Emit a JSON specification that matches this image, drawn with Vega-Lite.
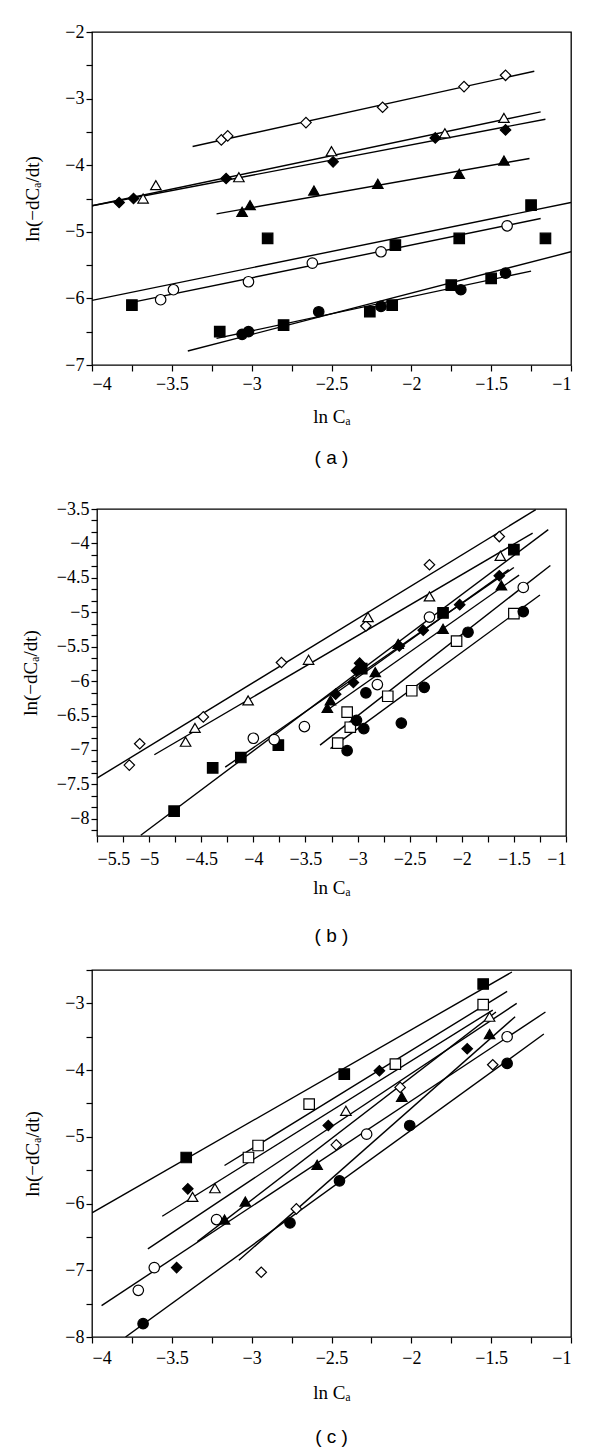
{
  "$schema": "https://vega.github.io/schema/vega-lite/v6.json",
  "padding": {"left": 20, "top": 22, "right": 5, "bottom": 5},
  "background": "white",
  "config": {
    "view": {"stroke": "black", "strokeWidth": 1.3},
    "axis": {
      "domain": false, "grid": false, "tickColor": "black", "tickSize": 6, "tickWidth": 1.2, "tickCount": 100,
      "labelFont": "Liberation Serif", "labelFontSize": 18, "labelColor": "black", "labelOverlap": false,
      "titleFont": "Liberation Serif", "titleFontSize": 19, "titleFontWeight": "normal", "titleColor": "black"
    },
    "axisY": {"minExtent": 40, "maxExtent": 40},
    "title": {"font": "Liberation Sans", "fontSize": 19, "fontWeight": "normal", "color": "black", "orient": "bottom", "anchor": "middle", "frame": "group"}
  },
  "datasets": {
    "a_points": [
      {"s": "od", "x": -3.19, "y": -3.62}, {"s": "od", "x": -3.15, "y": -3.56}, {"s": "od", "x": -2.66, "y": -3.36}, {"s": "od", "x": -2.18, "y": -3.13}, {"s": "od", "x": -1.67, "y": -2.82}, {"s": "od", "x": -1.41, "y": -2.65},
      {"s": "ot", "x": -3.60, "y": -4.30}, {"s": "ot", "x": -3.68, "y": -4.50}, {"s": "ot", "x": -3.08, "y": -4.18}, {"s": "ot", "x": -2.50, "y": -3.79}, {"s": "ot", "x": -1.79, "y": -3.52}, {"s": "ot", "x": -1.42, "y": -3.29},
      {"s": "fd", "x": -3.83, "y": -4.56}, {"s": "fd", "x": -3.74, "y": -4.50}, {"s": "fd", "x": -3.16, "y": -4.20}, {"s": "fd", "x": -2.49, "y": -3.95}, {"s": "fd", "x": -1.85, "y": -3.59}, {"s": "fd", "x": -1.41, "y": -3.47},
      {"s": "ft", "x": -3.06, "y": -4.70}, {"s": "ft", "x": -3.01, "y": -4.60}, {"s": "ft", "x": -2.61, "y": -4.38}, {"s": "ft", "x": -2.21, "y": -4.28}, {"s": "ft", "x": -1.70, "y": -4.13}, {"s": "ft", "x": -1.42, "y": -3.93},
      {"s": "oc", "x": -3.57, "y": -6.02}, {"s": "oc", "x": -3.49, "y": -5.87}, {"s": "oc", "x": -3.02, "y": -5.75}, {"s": "oc", "x": -2.62, "y": -5.47}, {"s": "oc", "x": -2.19, "y": -5.30}, {"s": "oc", "x": -1.40, "y": -4.91},
      {"s": "fs", "x": -3.75, "y": -6.10}, {"s": "fs", "x": -2.90, "y": -5.10}, {"s": "fs", "x": -2.10, "y": -5.20}, {"s": "fs", "x": -1.70, "y": -5.10}, {"s": "fs", "x": -1.25, "y": -4.60}, {"s": "fs", "x": -1.16, "y": -5.10},
      {"s": "fs", "x": -3.20, "y": -6.50}, {"s": "fs", "x": -2.80, "y": -6.40}, {"s": "fs", "x": -2.26, "y": -6.20}, {"s": "fs", "x": -2.12, "y": -6.10}, {"s": "fs", "x": -1.75, "y": -5.80}, {"s": "fs", "x": -1.50, "y": -5.70},
      {"s": "fc", "x": -3.06, "y": -6.54}, {"s": "fc", "x": -3.02, "y": -6.50}, {"s": "fc", "x": -2.58, "y": -6.20}, {"s": "fc", "x": -2.19, "y": -6.12}, {"s": "fc", "x": -1.69, "y": -5.87}, {"s": "fc", "x": -1.41, "y": -5.62}
    ],
    "a_fits": [
      {"line": "od", "x": -3.37, "y": -3.72}, {"line": "od", "x": -1.23, "y": -2.59},
      {"line": "ot", "x": -4.0, "y": -4.61}, {"line": "ot", "x": -1.19, "y": -3.20},
      {"line": "fd", "x": -4.0, "y": -4.61}, {"line": "fd", "x": -1.16, "y": -3.31},
      {"line": "ft", "x": -3.22, "y": -4.73}, {"line": "ft", "x": -1.26, "y": -3.90},
      {"line": "oc", "x": -3.75, "y": -6.06}, {"line": "oc", "x": -1.19, "y": -4.80},
      {"line": "fs1", "x": -4.0, "y": -6.03}, {"line": "fs1", "x": -1.0, "y": -4.56},
      {"line": "fs2", "x": -3.40, "y": -6.79}, {"line": "fs2", "x": -1.0, "y": -5.30},
      {"line": "fc", "x": -3.22, "y": -6.60}, {"line": "fc", "x": -1.25, "y": -5.59}
    ],
    "b_points": [
      {"s": "od", "x": -5.19, "y": -7.22}, {"s": "od", "x": -5.09, "y": -6.91}, {"s": "od", "x": -4.48, "y": -6.52}, {"s": "od", "x": -3.73, "y": -5.73}, {"s": "od", "x": -2.92, "y": -5.20}, {"s": "od", "x": -2.31, "y": -4.31}, {"s": "od", "x": -1.64, "y": -3.90},
      {"s": "ot", "x": -4.65, "y": -6.88}, {"s": "ot", "x": -4.56, "y": -6.68}, {"s": "ot", "x": -4.05, "y": -6.28}, {"s": "ot", "x": -3.47, "y": -5.69}, {"s": "ot", "x": -2.90, "y": -5.07}, {"s": "ot", "x": -2.31, "y": -4.77}, {"s": "ot", "x": -1.63, "y": -4.18},
      {"s": "fs", "x": -4.76, "y": -7.89}, {"s": "fs", "x": -4.39, "y": -7.26}, {"s": "fs", "x": -4.12, "y": -7.11}, {"s": "fs", "x": -3.76, "y": -6.93}, {"s": "fs", "x": -2.96, "y": -5.82}, {"s": "fs", "x": -2.18, "y": -5.01}, {"s": "fs", "x": -1.50, "y": -4.09},
      {"s": "fd", "x": -3.21, "y": -6.19}, {"s": "fd", "x": -3.04, "y": -6.02}, {"s": "fd", "x": -3.01, "y": -5.85}, {"s": "fd", "x": -2.98, "y": -5.74}, {"s": "fd", "x": -2.60, "y": -5.49}, {"s": "fd", "x": -2.37, "y": -5.26}, {"s": "fd", "x": -2.02, "y": -4.89}, {"s": "fd", "x": -1.64, "y": -4.47},
      {"s": "ft", "x": -3.29, "y": -6.39}, {"s": "ft", "x": -3.26, "y": -6.28}, {"s": "ft", "x": -2.83, "y": -5.87}, {"s": "ft", "x": -2.61, "y": -5.46}, {"s": "ft", "x": -2.18, "y": -5.24}, {"s": "ft", "x": -1.62, "y": -4.61},
      {"s": "oc", "x": -4.00, "y": -6.83}, {"s": "oc", "x": -3.80, "y": -6.85}, {"s": "oc", "x": -3.51, "y": -6.66}, {"s": "oc", "x": -2.81, "y": -6.05}, {"s": "oc", "x": -2.31, "y": -5.07}, {"s": "oc", "x": -1.41, "y": -4.64},
      {"s": "os", "x": -3.10, "y": -6.45}, {"s": "os", "x": -3.07, "y": -6.67}, {"s": "os", "x": -3.19, "y": -6.90}, {"s": "os", "x": -2.71, "y": -6.22}, {"s": "os", "x": -2.48, "y": -6.14}, {"s": "os", "x": -2.05, "y": -5.42}, {"s": "os", "x": -1.50, "y": -5.02},
      {"s": "fc", "x": -3.10, "y": -7.01}, {"s": "fc", "x": -3.01, "y": -6.57}, {"s": "fc", "x": -2.94, "y": -6.69}, {"s": "fc", "x": -2.92, "y": -6.17}, {"s": "fc", "x": -2.58, "y": -6.61}, {"s": "fc", "x": -2.36, "y": -6.09}, {"s": "fc", "x": -1.94, "y": -5.29}, {"s": "fc", "x": -1.41, "y": -4.99}
    ],
    "b_fits": [
      {"line": "od", "x": -5.5, "y": -7.41}, {"line": "od", "x": -1.29, "y": -3.51},
      {"line": "ot", "x": -4.95, "y": -7.07}, {"line": "ot", "x": -1.32, "y": -3.85},
      {"line": "fs", "x": -5.08, "y": -8.24}, {"line": "fs", "x": -1.17, "y": -3.80},
      {"line": "oc", "x": -4.27, "y": -7.25}, {"line": "oc", "x": -1.50, "y": -4.35},
      {"line": "ft", "x": -3.30, "y": -6.43}, {"line": "ft", "x": -1.45, "y": -4.46},
      {"line": "fd", "x": -3.25, "y": -6.22}, {"line": "fd", "x": -1.55, "y": -4.38},
      {"line": "os", "x": -3.36, "y": -6.93}, {"line": "os", "x": -1.15, "y": -4.32},
      {"line": "fc", "x": -3.26, "y": -6.98}, {"line": "fc", "x": -1.25, "y": -4.75}
    ],
    "c_points": [
      {"s": "fs", "x": -3.41, "y": -5.31}, {"s": "fs", "x": -2.42, "y": -4.06}, {"s": "fs", "x": -1.55, "y": -2.71},
      {"s": "os", "x": -3.02, "y": -5.31}, {"s": "os", "x": -2.96, "y": -5.13}, {"s": "os", "x": -2.64, "y": -4.51}, {"s": "os", "x": -2.10, "y": -3.91}, {"s": "os", "x": -1.55, "y": -3.02},
      {"s": "fd", "x": -3.40, "y": -5.78}, {"s": "fd", "x": -3.47, "y": -6.96}, {"s": "fd", "x": -2.52, "y": -4.83}, {"s": "fd", "x": -2.20, "y": -4.01}, {"s": "fd", "x": -1.65, "y": -3.68},
      {"s": "ot", "x": -3.37, "y": -5.90}, {"s": "ot", "x": -3.23, "y": -5.77}, {"s": "ot", "x": -2.41, "y": -4.61}, {"s": "ot", "x": -1.51, "y": -3.20},
      {"s": "oc", "x": -3.71, "y": -7.30}, {"s": "oc", "x": -3.61, "y": -6.96}, {"s": "oc", "x": -3.22, "y": -6.24}, {"s": "oc", "x": -2.28, "y": -4.96}, {"s": "oc", "x": -1.40, "y": -3.50},
      {"s": "fc", "x": -3.68, "y": -7.80}, {"s": "fc", "x": -2.76, "y": -6.29}, {"s": "fc", "x": -2.45, "y": -5.66}, {"s": "fc", "x": -2.01, "y": -4.83}, {"s": "fc", "x": -1.40, "y": -3.90},
      {"s": "ft", "x": -3.17, "y": -6.24}, {"s": "ft", "x": -3.04, "y": -5.97}, {"s": "ft", "x": -2.59, "y": -5.42}, {"s": "ft", "x": -2.06, "y": -4.40}, {"s": "ft", "x": -1.51, "y": -3.46},
      {"s": "od", "x": -2.94, "y": -7.03}, {"s": "od", "x": -2.72, "y": -6.08}, {"s": "od", "x": -2.47, "y": -5.12}, {"s": "od", "x": -2.07, "y": -4.26}, {"s": "od", "x": -1.49, "y": -3.92}
    ],
    "c_fits": [
      {"line": "fs", "x": -4.0, "y": -6.14}, {"line": "fs", "x": -1.37, "y": -2.53},
      {"line": "os", "x": -3.17, "y": -5.43}, {"line": "os", "x": -1.40, "y": -2.82},
      {"line": "ot", "x": -3.56, "y": -6.19}, {"line": "ot", "x": -1.49, "y": -3.10},
      {"line": "fd", "x": -3.65, "y": -6.68}, {"line": "fd", "x": -1.34, "y": -3.00},
      {"line": "ft", "x": -3.34, "y": -6.57}, {"line": "ft", "x": -1.47, "y": -3.13},
      {"line": "od", "x": -3.08, "y": -6.85}, {"line": "od", "x": -1.35, "y": -3.20},
      {"line": "oc", "x": -3.94, "y": -7.53}, {"line": "oc", "x": -1.16, "y": -3.13},
      {"line": "fc", "x": -3.79, "y": -8.0}, {"line": "fc", "x": -1.17, "y": -3.46}
    ]
  },
  "bounds": "flush",
  "spacing": 144,
  "resolve": {"scale": {"x": "independent", "y": "independent"}},
  "vconcat": [
    {
      "width": 479, "height": 333,
      "title": {"text": "( a )", "offset": 23},
      "layer": [
        {
          "data": {"name": "a_fits"},
          "mark": {"type": "line", "color": "black", "strokeWidth": 1.4, "clip": true},
          "encoding": {
            "x": {"field": "x", "type": "quantitative", "scale": {"domain": [-4, -1], "nice": false, "zero": false},
              "axis": {"title": "ln Cₐ", "values": [-4, -3.75, -3.5, -3.25, -3, -2.75, -2.5, -2.25, -2, -1.75, -1.5, -1.25, -1], "tickCount": 100, "labelExpr": "abs(datum.value*2-round(datum.value*2))<0.01 ? format(datum.value,'.1~f') : ''", "labelOverlap": false, "labelPadding": 4, "titlePadding": 14}},
            "y": {"field": "y", "type": "quantitative", "scale": {"domain": [-7, -2], "nice": false, "zero": false},
              "axis": {"title": "ln(−dCₐ/dt)", "values": [-7, -6.5, -6, -5.5, -5, -4.5, -4, -3.5, -3, -2.5, -2], "tickCount": 100, "labelExpr": "abs(datum.value-round(datum.value))<0.01 ? format(datum.value,'d') : ''", "labelOverlap": false, "titlePadding": 10}},
            "detail": {"field": "line", "type": "nominal"}
          }
        },
        {
          "data": {"name": "a_points"},
          "mark": {"type": "point", "filled": false, "stroke": "black", "strokeWidth": 1.2, "opacity": 1},
          "encoding": {
            "x": {"field": "x", "type": "quantitative"},
            "y": {"field": "y", "type": "quantitative"},
            "shape": {"field": "s", "type": "nominal", "legend": null, "scale": {"domain": ["fd", "od", "ft", "ot", "fc", "oc", "fs", "os"], "range": ["diamond", "diamond", "triangle-up", "triangle-up", "circle", "circle", "square", "square"]}},
            "fill": {"field": "s", "type": "nominal", "legend": null, "scale": {"domain": ["fd", "od", "ft", "ot", "fc", "oc", "fs", "os"], "range": ["black", "white", "black", "white", "black", "white", "black", "white"]}},
            "size": {"field": "s", "type": "nominal", "legend": null, "scale": {"domain": ["fd", "od", "ft", "ot", "fc", "oc", "fs", "os"], "range": [110, 110, 110, 110, 75, 75, 100, 90]}}
          }
        }
      ]
    },
    {
      "bounds": "flush",
      "spacing": 134,
      "center": true,
      "resolve": {"scale": {"x": "independent", "y": "independent"}},
      "vconcat": [
        {
          "width": 469, "height": 327,
          "title": {"text": "( b )", "offset": 30},
          "layer": [
            {
              "data": {"name": "b_fits"},
              "mark": {"type": "line", "color": "black", "strokeWidth": 1.4, "clip": true},
              "encoding": {
                "x": {"field": "x", "type": "quantitative", "scale": {"domain": [-5.5, -1], "nice": false, "zero": false},
                  "axis": {"title": "ln Cₐ", "values": [-5.5, -5.25, -5, -4.75, -4.5, -4.25, -4, -3.75, -3.5, -3.25, -3, -2.75, -2.5, -2.25, -2, -1.75, -1.5, -1.25, -1], "tickCount": 100, "labelExpr": "abs(datum.value*2-round(datum.value*2))<0.01 ? format(datum.value,'.1~f') : ''", "labelOverlap": false, "labelPadding": 8, "titlePadding": 10}},
                "y": {"field": "y", "type": "quantitative", "scale": {"domain": [-8.25, -3.5], "nice": false, "zero": false},
                  "axis": {"title": "ln(−dCₐ/dt)", "values": [-8.16667, -8, -7.83333, -7.66667, -7.5, -7.33333, -7.16667, -7, -6.83333, -6.66667, -6.5, -6.33333, -6.16667, -6, -5.83333, -5.66667, -5.5, -5.33333, -5.16667, -5, -4.83333, -4.66667, -4.5, -4.33333, -4.16667, -4, -3.83333, -3.66667, -3.5], "tickCount": 100, "labelExpr": "abs(datum.value*2-round(datum.value*2))<0.01 ? format(datum.value,'.1~f') : ''", "labelOverlap": false, "titlePadding": 17}},
                "detail": {"field": "line", "type": "nominal"}
              }
            },
            {
              "data": {"name": "b_points"},
              "mark": {"type": "point", "filled": false, "stroke": "black", "strokeWidth": 1.2, "opacity": 1},
              "encoding": {
                "x": {"field": "x", "type": "quantitative"},
                "y": {"field": "y", "type": "quantitative"},
                "shape": {"field": "s", "type": "nominal", "legend": null},
                "fill": {"field": "s", "type": "nominal", "legend": null},
                "size": {"field": "s", "type": "nominal", "legend": null}
              }
            }
          ]
        },
        {
          "width": 479, "height": 367,
          "title": {"text": "( c )", "offset": 26},
          "layer": [
            {
              "data": {"name": "c_fits"},
              "mark": {"type": "line", "color": "black", "strokeWidth": 1.4, "clip": true},
              "encoding": {
                "x": {"field": "x", "type": "quantitative", "scale": {"domain": [-4, -1], "nice": false, "zero": false},
                  "axis": {"title": "ln Cₐ", "values": [-4, -3.75, -3.5, -3.25, -3, -2.75, -2.5, -2.25, -2, -1.75, -1.5, -1.25, -1], "tickCount": 100, "labelExpr": "abs(datum.value*2-round(datum.value*2))<0.01 ? format(datum.value,'.1~f') : ''", "labelOverlap": false, "labelPadding": 6, "titlePadding": 16}},
                "y": {"field": "y", "type": "quantitative", "scale": {"domain": [-8, -2.5], "nice": false, "zero": false},
                  "axis": {"title": "ln(−dCₐ/dt)", "values": [-8, -7.5, -7, -6.5, -6, -5.5, -5, -4.5, -4, -3.5, -3, -2.5], "tickCount": 100, "labelExpr": "abs(datum.value-round(datum.value))<0.01 ? format(datum.value,'d') : ''", "labelOverlap": false, "titlePadding": 10}},
                "detail": {"field": "line", "type": "nominal"}
              }
            },
            {
              "data": {"name": "c_points"},
              "mark": {"type": "point", "filled": false, "stroke": "black", "strokeWidth": 1.2, "opacity": 1},
              "encoding": {
                "x": {"field": "x", "type": "quantitative"},
                "y": {"field": "y", "type": "quantitative"},
                "shape": {"field": "s", "type": "nominal", "legend": null},
                "fill": {"field": "s", "type": "nominal", "legend": null},
                "size": {"field": "s", "type": "nominal", "legend": null}
              }
            }
          ]
        }
      ]
    }
  ]
}
